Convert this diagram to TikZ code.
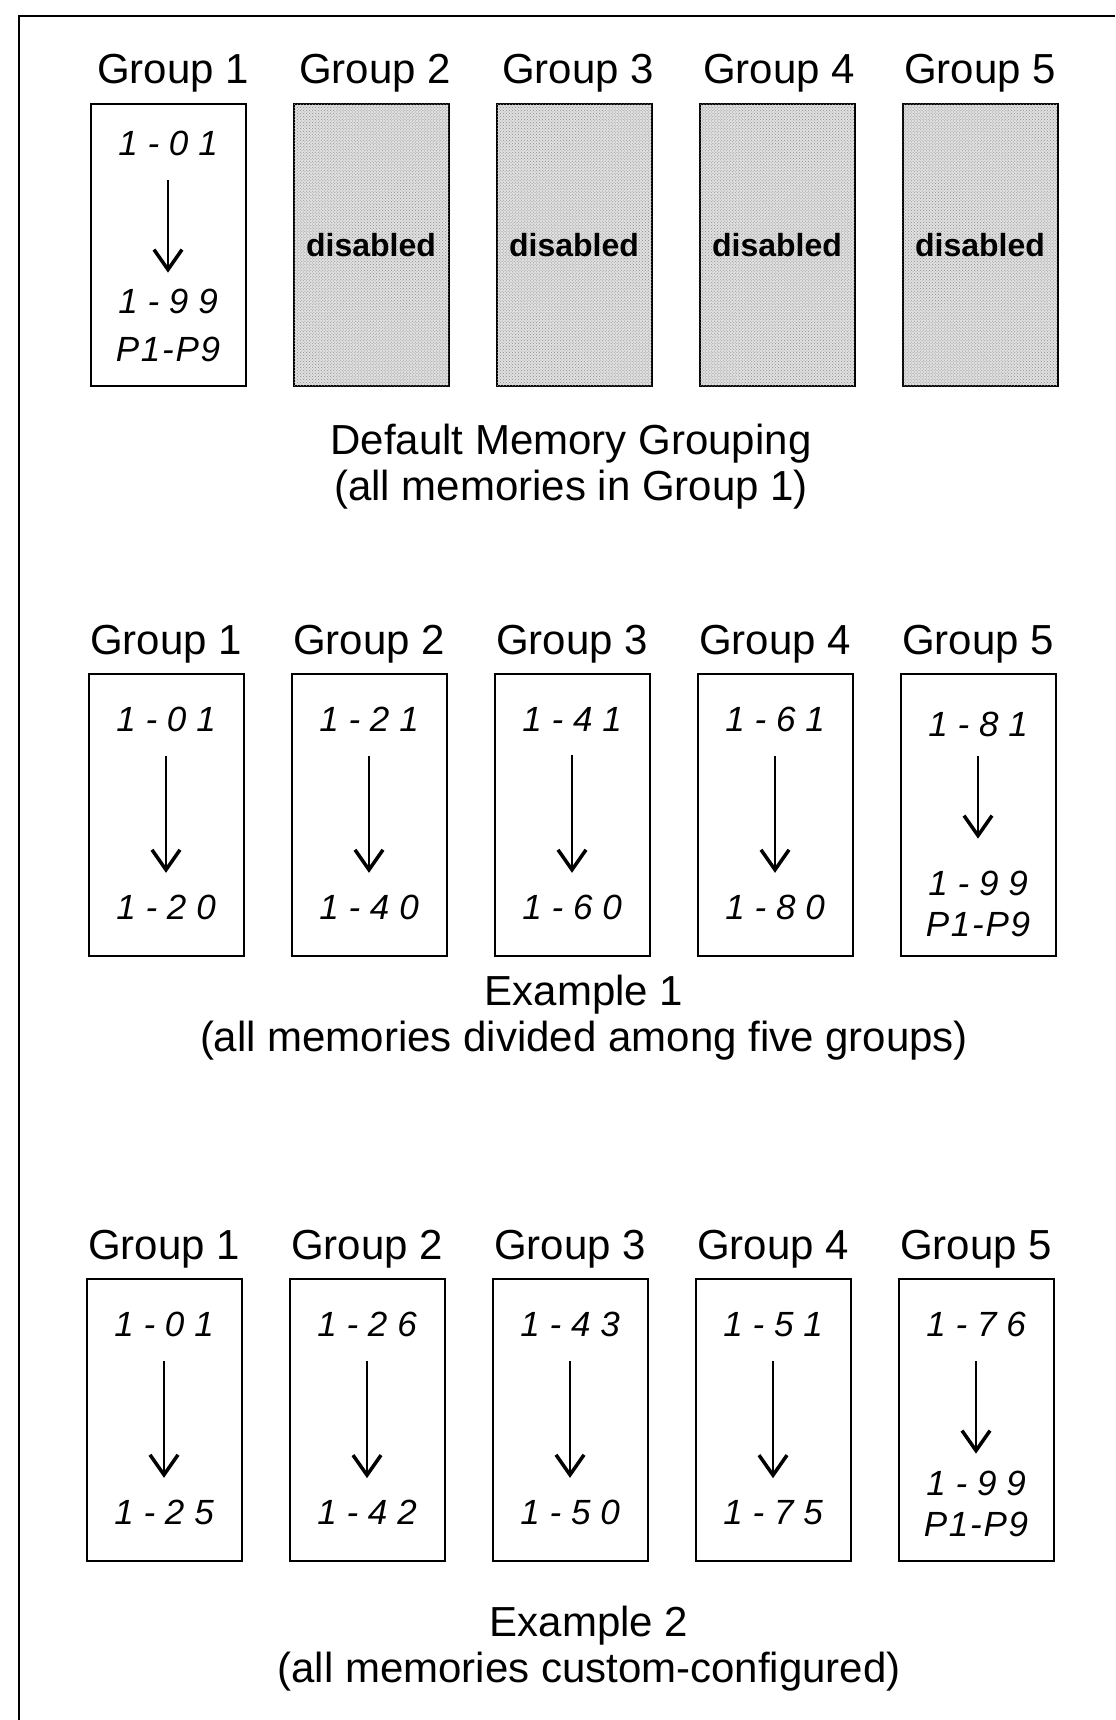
\documentclass[tikz,border=0pt]{standalone}
\usepackage{fontspec}
\setmainfont{Liberation Sans}
\newfontfamily\lcdwide[LetterSpace=28]{Liberation Sans}
\newfontfamily\lcdtight[LetterSpace=5]{Liberation Sans}
\usetikzlibrary{arrows.meta, positioning, patterns}

\begin{document}
\begin{tikzpicture}[
    x=1bp, y=-1bp,
    node distance=46bp,
    grp/.style={font=\fontsize{42bp}{46bp}\selectfont, inner sep=0pt},
    memcell/.style={rectangle, draw, line width=2bp, minimum width=155bp, minimum height=282bp, inner sep=0pt},
    offcell/.style={memcell, fill=black!12, postaction={pattern=crosshatch dots, pattern color=black!45}, font=\bfseries\fontsize{32bp}{36bp}\selectfont},
    lcd/.style={font=\lcdwide\itshape\fontsize{35bp}{38bp}\selectfont, inner sep=0pt},
    lcdp/.style={font=\lcdtight\itshape\fontsize{35bp}{38bp}\selectfont, inner sep=0pt},
    capt/.style={align=center, inner sep=0pt, font=\fontsize{42bp}{46bp}\selectfont},
    arr/.style={-{Straight Barb[length=20bp, width=28bp, line width=3.5bp]}, line width=1.8bp, shorten <=24bp, shorten >=22bp},
]
    \useasboundingbox (0,0) rectangle (1115,1720);
    \draw[line width=2.5bp] (1115,16) -- (19,16) -- (19,1720);

    % default grouping
    \node[memcell] (def1) at (168,245) {};
    \node[offcell, right=of def1] (def2) {disabled};
    \node[offcell, right=of def2] (def3) {disabled};
    \node[offcell, right=of def3] (def4) {disabled};
    \node[offcell, right=of def4] (def5) {disabled};
    \node[grp, above=11bp of def1, xshift=5bp] (def1lbl) {Group 1};
    \node[grp, above=11bp of def2, xshift=4bp] (def2lbl) {Group 2};
    \node[grp, above=11bp of def3, xshift=4bp] (def3lbl) {Group 3};
    \node[grp, above=11bp of def4, xshift=2bp] (def4lbl) {Group 4};
    \node[grp, above=11bp of def5] (def5lbl) {Group 5};
    \node[lcd, below=28bp of def1.north] (def1top) {1-01};
    \node[lcdp, above=25bp of def1.south] (def1p) {P1-P9};
    \node[lcd, above=23bp of def1p] (def1end) {1-99};
    \draw[arr, shorten >=16bp] (def1top) -- (def1end);
    \node[capt, below=37bp of def3, xshift=-3bp] (defcap) {Default Memory Grouping\\(all memories in Group 1)};

    % example 1
    \node[memcell] (exa1) at (166,815) {};
    \node[memcell, right=of exa1] (exa2) {};
    \node[memcell, right=of exa2] (exa3) {};
    \node[memcell, right=of exa3] (exa4) {};
    \node[memcell, right=of exa4] (exa5) {};
    \node[grp, above=10bp of exa1] (exa1lbl) {Group 1};
    \node[grp, above=10bp of exa2] (exa2lbl) {Group 2};
    \node[grp, above=10bp of exa3] (exa3lbl) {Group 3};
    \node[grp, above=10bp of exa4] (exa4lbl) {Group 4};
    \node[grp, above=10bp of exa5] (exa5lbl) {Group 5};
    \node[lcd, below=34bp of exa1.north] (exa1top) {1-01};
    \node[lcd, above=37bp of exa1.south] (exa1end) {1-20};
    \node[lcd, below=34bp of exa2.north] (exa2top) {1-21};
    \node[lcd, above=37bp of exa2.south] (exa2end) {1-40};
    \node[lcd, below=34bp of exa3.north] (exa3top) {1-41};
    \node[lcd, above=37bp of exa3.south] (exa3end) {1-60};
    \node[lcd, below=34bp of exa4.north] (exa4top) {1-61};
    \node[lcd, above=37bp of exa4.south] (exa4end) {1-80};
    \node[lcd, below=39bp of exa5.north] (exa5top) {1-81};
    \node[lcdp, above=20bp of exa5.south] (exa5p) {P1-P9};
    \node[lcd, above=16bp of exa5p] (exa5end) {1-99};
    \draw[arr] (exa1top) -- (exa1end);
    \draw[arr] (exa2top) -- (exa2end);
    \draw[arr] (exa3top) -- (exa3end);
    \draw[arr] (exa4top) -- (exa4end);
    \draw[arr, shorten <=19bp, shorten >=32bp] (exa5top) -- (exa5end);
    \node[capt, below=18bp of exa3, xshift=12bp] (exacap) {Example 1\\(all memories divided among five groups)};

    % example 2
    \node[memcell] (exb1) at (164,1420) {};
    \node[memcell, right=of exb1] (exb2) {};
    \node[memcell, right=of exb2] (exb3) {};
    \node[memcell, right=of exb3] (exb4) {};
    \node[memcell, right=of exb4] (exb5) {};
    \node[grp, above=10bp of exb1] (exb1lbl) {Group 1};
    \node[grp, above=10bp of exb2] (exb2lbl) {Group 2};
    \node[grp, above=10bp of exb3] (exb3lbl) {Group 3};
    \node[grp, above=10bp of exb4] (exb4lbl) {Group 4};
    \node[grp, above=10bp of exb5] (exb5lbl) {Group 5};
    \node[lcd, below=34bp of exb1.north] (exb1top) {1-01};
    \node[lcd, above=37bp of exb1.south] (exb1end) {1-25};
    \node[lcd, below=34bp of exb2.north] (exb2top) {1-26};
    \node[lcd, above=37bp of exb2.south] (exb2end) {1-42};
    \node[lcd, below=34bp of exb3.north] (exb3top) {1-43};
    \node[lcd, above=37bp of exb3.south] (exb3end) {1-50};
    \node[lcd, below=34bp of exb4.north] (exb4top) {1-51};
    \node[lcd, above=37bp of exb4.south] (exb4end) {1-75};
    \node[lcd, below=34bp of exb5.north] (exb5top) {1-76};
    \node[lcdp, above=25bp of exb5.south] (exb5p) {P1-P9};
    \node[lcd, above=16bp of exb5p] (exb5end) {1-99};
    \draw[arr] (exb1top) -- (exb1end);
    \draw[arr] (exb2top) -- (exb2end);
    \draw[arr] (exb3top) -- (exb3end);
    \draw[arr] (exb4top) -- (exb4end);
    \draw[arr, shorten >=17bp] (exb5top) -- (exb5end);
    \node[capt, below=44bp of exb3, xshift=19bp] (exbcap) {Example 2\\(all memories custom-configured)};
\end{tikzpicture}
\end{document}
